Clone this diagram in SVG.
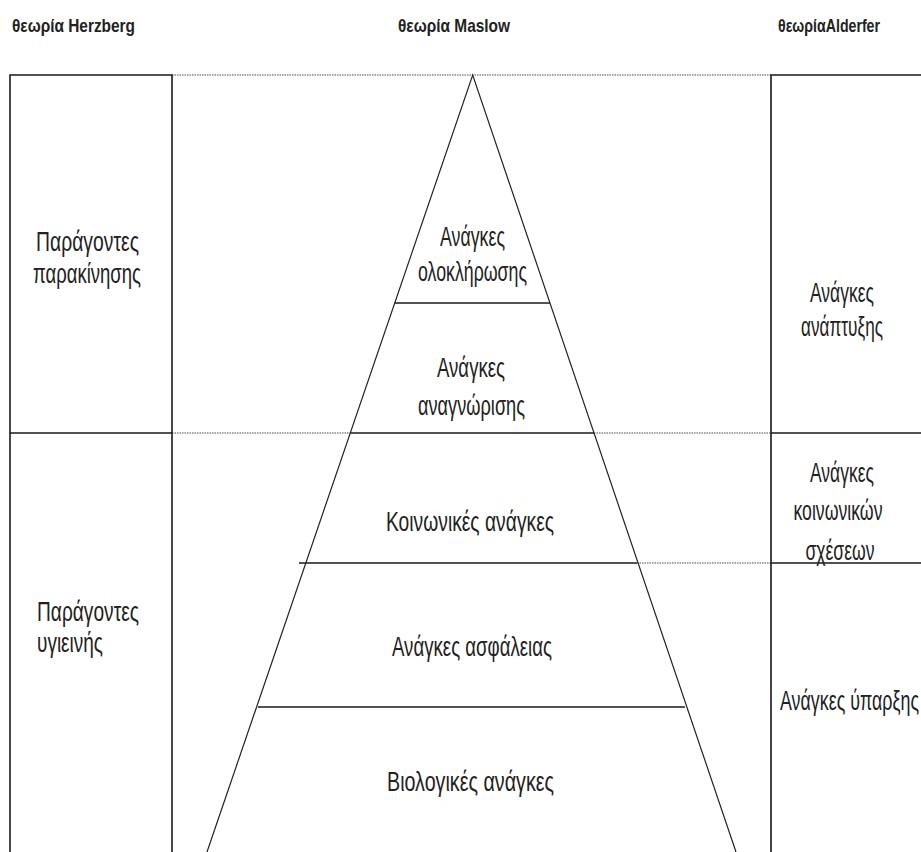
<svg xmlns="http://www.w3.org/2000/svg" width="921" height="852" viewBox="0 0 921 852">
<style>
.bg{fill:#ffffff}
.ln{stroke:#1a1a1a;stroke-width:1.6;fill:none}
.side{stroke:#222;stroke-width:1.2;fill:none}
.dot{stroke:#888;stroke-width:1.4;stroke-dasharray:1.5 1;fill:none}
.hd{font-family:"Liberation Sans Narrow","Liberation Sans",sans-serif;font-size:19px;fill:#222;font-weight:bold}
.tx{font-family:"Liberation Sans Narrow","Liberation Sans",sans-serif;font-size:27px;fill:#222}
.mid{text-anchor:middle}
</style>
<rect class="bg" x="0" y="0" width="921" height="852"/>
<g id="headers">
<text class="hd" x="12" y="32" textLength="123" lengthAdjust="spacingAndGlyphs">θεωρία Herzberg</text>
<text class="hd" x="398" y="32" textLength="112" lengthAdjust="spacingAndGlyphs">θεωρία Maslow</text>
<text class="hd" x="778" y="32" textLength="102" lengthAdjust="spacingAndGlyphs">θεωρίαAlderfer</text>
</g>
<g id="connectors">
<line class="dot" x1="172" y1="75" x2="771" y2="75"/>
<line class="dot" x1="172" y1="433" x2="351" y2="433"/>
<line class="dot" x1="594" y1="433" x2="771" y2="433"/>
<line class="dot" x1="637" y1="563" x2="771" y2="563"/>
</g>
<g id="herzberg">
<path class="ln" d="M10,852 V75 H172 V852"/>
<line class="ln" x1="10" y1="433" x2="172" y2="433"/>
<text class="tx" x="36" y="251" textLength="103" lengthAdjust="spacingAndGlyphs">Παράγοντες</text>
<text class="tx" x="33" y="283" textLength="108" lengthAdjust="spacingAndGlyphs">παρακίνησης</text>
<text class="tx" x="37" y="621" textLength="102" lengthAdjust="spacingAndGlyphs">Παράγοντες</text>
<text class="tx" x="37" y="652" textLength="66" lengthAdjust="spacingAndGlyphs">υγιεινής</text>
</g>
<g id="maslow">
<path class="side" d="M207,852 L472.7,75 L736,852"/>
<line class="ln" x1="395" y1="303" x2="550" y2="303"/>
<line class="ln" x1="351" y1="433" x2="594" y2="433"/>
<line class="ln" x1="299" y1="563" x2="637" y2="563"/>
<line class="ln" x1="258" y1="707" x2="685" y2="707"/>
<text class="tx" x="440" y="246" textLength="65" lengthAdjust="spacingAndGlyphs">Ανάγκες</text>
<text class="tx" x="418" y="281" textLength="109" lengthAdjust="spacingAndGlyphs">ολοκλήρωσης</text>
<text class="tx" x="437" y="377" textLength="68" lengthAdjust="spacingAndGlyphs">Ανάγκες</text>
<text class="tx" x="418" y="415" textLength="107" lengthAdjust="spacingAndGlyphs">αναγνώρισης</text>
<text class="tx" x="386" y="531" textLength="168" lengthAdjust="spacingAndGlyphs">Κοινωνικές ανάγκες</text>
<text class="tx" x="392" y="656" textLength="160" lengthAdjust="spacingAndGlyphs">Ανάγκες ασφάλειας</text>
<text class="tx" x="387" y="791" textLength="167" lengthAdjust="spacingAndGlyphs">Βιολογικές ανάγκες</text>
</g>
<g id="alderfer">
<path class="ln" d="M771,852 V75 H921"/>
<line class="ln" x1="771" y1="433" x2="921" y2="433"/>
<line class="ln" x1="771" y1="563" x2="921" y2="563"/>
<text class="tx mid" x="842" y="302" textLength="64" lengthAdjust="spacingAndGlyphs">Ανάγκες</text>
<text class="tx mid" x="842" y="336" textLength="82" lengthAdjust="spacingAndGlyphs">ανάπτυξης</text>
<text class="tx mid" x="842" y="482" textLength="64" lengthAdjust="spacingAndGlyphs">Ανάγκες</text>
<text class="tx mid" x="838" y="520" textLength="89" lengthAdjust="spacingAndGlyphs">κοινωνικών</text>
<text class="tx mid" x="840" y="560" textLength="69" lengthAdjust="spacingAndGlyphs">σχέσεων</text>
<text class="tx" x="780" y="710" textLength="139" lengthAdjust="spacingAndGlyphs">Ανάγκες ύπαρξης</text>
</g>
</svg>
